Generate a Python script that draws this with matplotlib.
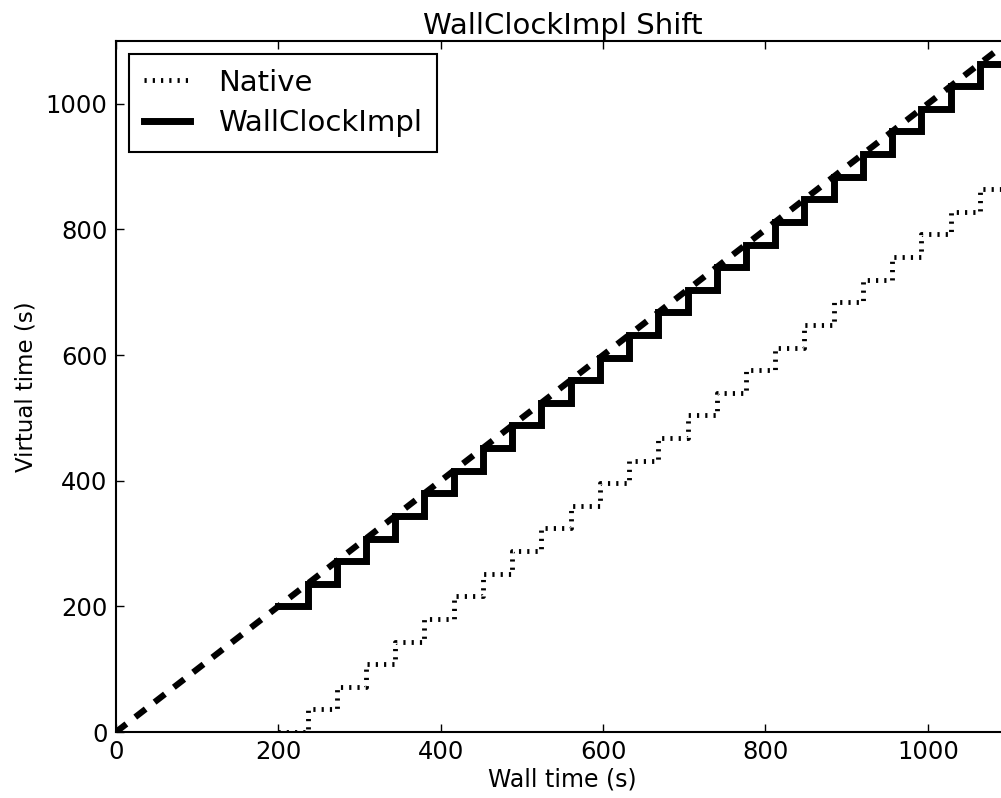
import matplotlib
matplotlib.use("Agg")
import matplotlib.pyplot as plt

# Data
wall_x = [200, 236, 272, 308, 344, 380, 416, 452, 488, 524, 560, 596, 632, 668,
          704, 740, 776, 812, 848, 884, 920, 956, 992, 1028, 1064, 1100]
wall_y = [200, 236, 272, 308, 344, 380, 416, 452, 488, 524, 560, 596, 632, 668,
          704, 740, 776, 812, 848, 884, 920, 956, 992, 1028, 1064, 1064]
native_y = [0, 36, 72, 108, 144, 180, 216, 252, 288, 324, 360, 396, 432, 468,
            504, 540, 576, 612, 648, 684, 720, 756, 792, 828, 864, 864]
ideal_x = [0, 1100]
ideal_y = [0, 1100]
ticks = [0, 200, 400, 600, 800, 1000]

plt.rcParams['font.family'] = ['DejaVu Sans']
fig = plt.figure(figsize=(10.01, 7.98), dpi=100, facecolor='white')
ax = fig.add_axes([116 / 1001, 1 - 732 / 798, (1009 - 116) / 1001, (732 - 41) / 798])

ax.plot(wall_x, native_y, drawstyle='steps-post', color='black', lw=3.5,
        linestyle=(0, (0.45, 1.25)), dash_capstyle='butt', label='Native')
ax.plot(wall_x, wall_y, drawstyle='steps-post', color='black', lw=5,
        label='WallClockImpl', solid_joinstyle='miter')
ax.plot(ideal_x, ideal_y, color='black', lw=4.5, linestyle=(0, (2.1, 1.8)),
        dash_capstyle='butt')

ax.set_xlim(0, 1100)
ax.set_ylim(0, 1100)
ax.set_xticks(ticks)
ax.set_yticks(ticks)
ax.tick_params(direction='in', top=True, right=True, length=6, width=1,
               labelsize=17.5, pad=6)
for s in ax.spines.values():
    s.set_linewidth(1.5)

ax.set_xlabel('Wall time (s)', fontsize=17, labelpad=2)
ax.set_ylabel('Virtual time (s)', fontsize=16.5, labelpad=6)
ax.set_title('WallClockImpl Shift', fontsize=21, pad=5)

leg = ax.legend(loc='upper left', fontsize=21, fancybox=False, framealpha=1,
                edgecolor='black', handlelength=1.6, borderaxespad=0.45,
                handletextpad=0.95, borderpad=0.5, labelspacing=0.42)
leg.get_frame().set_linewidth(1.5)

fig.savefig('out.png', dpi=100, facecolor='white')
